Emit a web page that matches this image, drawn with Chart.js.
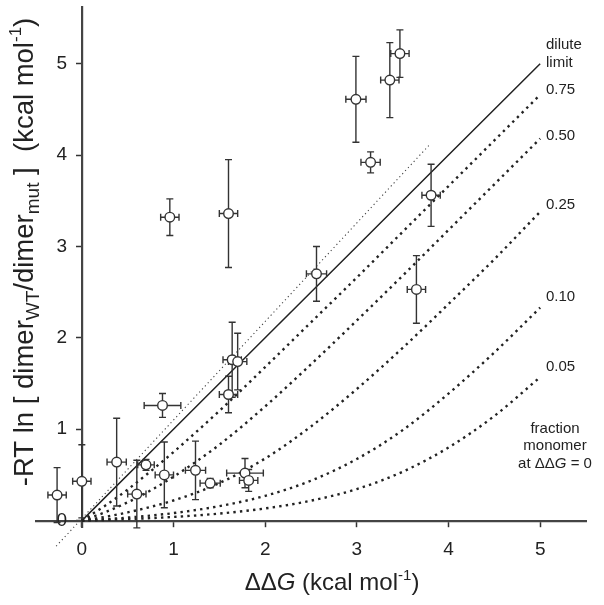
<!DOCTYPE html>
<html>
<head>
<meta charset="utf-8">
<script src="https://cdn.jsdelivr.net/npm/chart.js@4.4.1/dist/chart.umd.min.js"></script>
<style>
  html, body { margin: 0; padding: 0; background: #fff; }
  #wrap { position: relative; width: 604px; height: 605px; }
</style>
</head>
<body>
<div id="wrap"><canvas id="chart"></canvas></div>
<script>
// Measured mutants: value, x error, y error
const pointX    = [-0.27, 0.00, 0.38, 0.60, 0.70, 0.90, 1.24, 0.88, 1.40, 1.78, 1.82, 0.96, 1.60, 2.56, 1.64, 1.70, 1.60, 2.99, 3.36, 3.47, 3.15, 3.81, 3.65];
const pointY    = [ 0.28, 0.43, 0.64, 0.29, 0.61, 0.50, 0.55, 1.26, 0.41, 0.52, 0.44, 3.32, 3.36, 2.70, 1.76, 1.74, 1.38, 4.61, 4.82, 5.11, 3.92, 3.56, 2.53];
const pointXErr = [ 0.10, 0.10, 0.105, 0.10, 0.09, 0.10, 0.11, 0.20, 0.11, 0.20, 0.10, 0.10, 0.10, 0.11, 0.10, 0.10, 0.10, 0.11, 0.10, 0.10, 0.105, 0.10, 0.10];
const pointYErr = [ 0.30, 0.40, 0.48, 0.37, 0.06, 0.36, 0.32, 0.13, 0.05, 0.16, 0.12, 0.20, 0.59, 0.30, 0.41, 0.31, 0.20, 0.47, 0.41, 0.26, 0.115, 0.34, 0.37];

// Model curves, by fraction monomer at ddG = 0
const curveX   = [0, 0.25, 0.5, 0.75, 1, 1.5, 2, 2.5, 3, 3.5, 4, 4.5, 5];
const curve075 = [0, 0.16, 0.34, 0.54, 0.75, 1.20, 1.68, 2.17, 2.66, 3.16, 3.66, 4.16, 4.66];
const curve050 = [0, 0.09, 0.20, 0.33, 0.48, 0.83, 1.25, 1.71, 2.19, 2.68, 3.18, 3.68, 4.18];
const curve025 = [0, 0.04, 0.09, 0.15, 0.22, 0.41, 0.68, 1.03, 1.44, 1.89, 2.37, 2.86, 3.38];
const curve010 = [0, 0.015, 0.033, 0.055, 0.082, 0.158, 0.271, 0.437, 0.674, 0.990, 1.390, 1.840, 2.330];
const curve005 = [0, 0.007, 0.016, 0.027, 0.040, 0.077, 0.133, 0.218, 0.345, 0.535, 0.800, 1.145, 1.570];

const diluteX = [0, 1, 2, 3, 4, 5];
const diluteY = [0, 1, 2, 3, 4, 5];
const fitX = [-0.28, 3.80];
const fitY = [-0.28, 4.12];

const xTicks = [0, 1, 2, 3, 4, 5];
const yTicks = [0, 1, 2, 3, 4, 5];

const FONT = "'Liberation Sans', Arial, sans-serif";
const INK = '#222';

function toXY(xs, ys) {
    return xs.map((x, i) => ({ x: x, y: ys[i] }));
}

function curve(ys) {
    return {
        data: toXY(curveX, ys),
        showLine: true,
        borderColor: INK,
        borderWidth: 2.4,
        borderDash: [2.4, 4.2],
        pointRadius: 0,
        cubicInterpolationMode: 'monotone'
    };
}

// draw a run of text pieces (sub/superscripts, italics) centred or left aligned
function drawRuns(ctx, runs, x, y, align) {
    let total = 0;
    runs.forEach(r => {
        ctx.font = (r.italic ? 'italic ' : '') + r.size + 'px ' + FONT;
        r.w = ctx.measureText(r.t).width;
        total += r.w;
    });
    let cx = align === 'left' ? x : x - total / 2;
    runs.forEach(r => {
        ctx.font = (r.italic ? 'italic ' : '') + r.size + 'px ' + FONT;
        ctx.fillText(r.t, cx, y + (r.dy || 0));
        cx += r.w;
    });
}

const errorBars = {
    id: 'errorBars',
    beforeDatasetDraw(chart, args) {
        if (args.index !== 0) return;
        const { ctx, scales: { x, y } } = chart;
        const cap = 3.5;
        ctx.save();
        ctx.strokeStyle = '#333';
        ctx.lineWidth = 1.4;
        pointX.forEach((vx, i) => {
            const cx = x.getPixelForValue(vx);
            const cy = y.getPixelForValue(pointY[i]);
            const x0 = x.getPixelForValue(vx - pointXErr[i]);
            const x1 = x.getPixelForValue(vx + pointXErr[i]);
            const y0 = y.getPixelForValue(pointY[i] - pointYErr[i]);
            const y1 = y.getPixelForValue(pointY[i] + pointYErr[i]);
            ctx.beginPath();
            ctx.moveTo(x0, cy); ctx.lineTo(x1, cy);
            ctx.moveTo(x0, cy - cap); ctx.lineTo(x0, cy + cap);
            ctx.moveTo(x1, cy - cap); ctx.lineTo(x1, cy + cap);
            ctx.moveTo(cx, y0); ctx.lineTo(cx, y1);
            ctx.moveTo(cx - cap, y0); ctx.lineTo(cx + cap, y0);
            ctx.moveTo(cx - cap, y1); ctx.lineTo(cx + cap, y1);
            ctx.stroke();
        });
        ctx.restore();
    }
};

const labels = {
    id: 'labels',
    afterDraw(chart) {
        const ctx = chart.ctx;
        ctx.save();
        ctx.fillStyle = INK;
        ctx.textBaseline = 'alphabetic';
        ctx.textAlign = 'left';

        // x axis title
        drawRuns(ctx, [
            { t: '\u0394\u0394', size: 24 },
            { t: 'G', size: 24, italic: true },
            { t: ' (kcal mol', size: 24 },
            { t: '-1', size: 15, dy: -10 },
            { t: ')', size: 24 }
        ], 332, 590, 'center');

        // y axis title
        ctx.save();
        ctx.translate(33, 252);
        ctx.rotate(-Math.PI / 2);
        drawRuns(ctx, [
            { t: '-RT ln [ dimer', size: 27.5 },
            { t: 'WT', size: 19, dy: 6 },
            { t: '/dimer', size: 27.5 },
            { t: 'mut', size: 19, dy: 6 },
            { t: ' ]  (kcal mol', size: 27.5 },
            { t: '-1', size: 17, dy: -12 },
            { t: ')', size: 27.5 }
        ], 0, 0, 'center');
        ctx.restore();

        // curve labels
        const curveLabels = [['dilute', 49], ['limit', 67], ['0.75', 94], ['0.50', 140], ['0.25', 209], ['0.10', 301], ['0.05', 371]];
        ctx.font = '15px ' + FONT;
        curveLabels.forEach(([t, by]) => ctx.fillText(t, 546, by));

        drawRuns(ctx, [{ t: 'fraction', size: 15 }], 555, 433, 'center');
        drawRuns(ctx, [{ t: 'monomer', size: 15 }], 555, 450, 'center');
        drawRuns(ctx, [
            { t: 'at \u0394\u0394', size: 15 },
            { t: 'G', size: 15, italic: true },
            { t: ' = 0', size: 15 }
        ], 555, 468, 'center');
        ctx.restore();
    }
};

new Chart(document.getElementById('chart'), {
    type: 'scatter',
    data: {
        datasets: [
            {
                data: toXY(pointX, pointY),
                pointRadius: 4.8,
                pointBackgroundColor: '#fff',
                pointBorderColor: '#333',
                pointBorderWidth: 1.4,
                showLine: false
            },
            {
                data: toXY(diluteX, diluteY),
                showLine: true,
                borderColor: INK,
                borderWidth: 1.5,
                pointRadius: 0
            },
            {
                data: toXY(fitX, fitY),
                showLine: true,
                borderColor: '#444',
                borderWidth: 1.1,
                borderDash: [1.2, 3],
                pointRadius: 0,
                clip: false
            },
            curve(curve075),
            curve(curve050),
            curve(curve025),
            curve(curve010),
            curve(curve005)
        ]
    },
    options: {
        responsive: true,
        maintainAspectRatio: false,
        animation: false,
        layout: { padding: { left: 36, right: 18, top: 7, bottom: 78 } },
        plugins: {
            legend: { display: false },
            tooltip: { enabled: false }
        },
        scales: {
            x: {
                type: 'linear',
                position: { y: 0 },
                min: -0.5,
                max: 5.5,
                afterBuildTicks: s => { s.ticks = xTicks.map(v => ({ value: v })); },
                afterFit: s => { s.paddingLeft = 0; s.paddingRight = 0; },
                grid: { drawOnChartArea: false, drawTicks: true, tickLength: 5, tickWidth: 1.5, tickColor: '#333' },
                border: { display: true, color: '#444', width: 2.2 },
                ticks: { font: { family: FONT, size: 19 }, color: INK, padding: 13, callback: v => String(v) }
            },
            y: {
                type: 'linear',
                position: { x: 0 },
                min: -0.07,
                max: 5.62,
                afterBuildTicks: s => { s.ticks = yTicks.map(v => ({ value: v })); },
                afterFit: s => { s.paddingTop = 0; s.paddingBottom = 0; },
                grid: { drawOnChartArea: false, drawTicks: true, tickLength: 5, tickWidth: 1.5, tickColor: '#333' },
                border: { display: true, color: '#444', width: 2.2 },
                // labels sit right on the axis when it is positioned by value, so pad with spaces
                ticks: { font: { family: FONT, size: 19 }, color: INK, padding: 8, callback: v => String(v) + '\u2002 ' }
            }
        }
    },
    plugins: [errorBars, labels]
});
</script>
</body>
</html>
